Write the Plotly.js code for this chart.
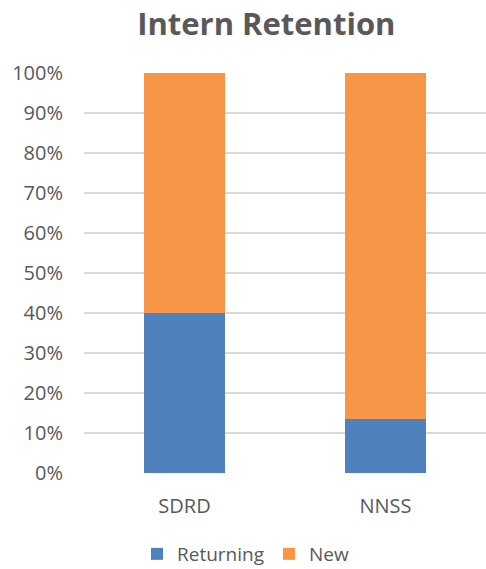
<!DOCTYPE html>
<html><head><meta charset="utf-8">
<script src="https://cdn.plot.ly/plotly-3.0.1.min.js"></script>
<style>html,body{margin:0;padding:0;background:#fff}</style>
</head><body>
<div id="chart" style="width:486px;height:569px"></div>
<script>
const categories = ["SDRD", "NNSS"];
const returning = [0.40, 0.136];
const newInterns = [0.60, 0.864];
const yTickVals = [0,0.1,0.2,0.3,0.4,0.5,0.6,0.7,0.8,0.9,1.0];

const font = "Open Sans, Noto Sans, sans-serif";
const gray = "#595959";

const data = [
  {type:"bar", name:"Returning", x:categories, y:returning, marker:{color:"#4f81bd"}, hoverinfo:"x+y+name"},
  {type:"bar", name:"New", x:categories, y:newInterns, marker:{color:"#f79646"}, hoverinfo:"x+y+name"}
];

const layout = {
  width:486, height:569,
  barmode:"stack",
  bargap:0.6,
  margin:{l:84, r:0, t:73, b:96, autoexpand:false},
  paper_bgcolor:"#fff", plot_bgcolor:"#fff",
  title:{text:"<b>Intern Retention</b>", font:{family:font, size:31, color:gray}, x:0.548, xref:"container", xanchor:"center", y:1-24/569, yref:"container", yanchor:"middle"},
  xaxis:{showgrid:false, showline:false, zeroline:false, ticks:"", tickfont:{family:font, size:20, color:gray}, ticklabelstandoff:19, fixedrange:true},
  yaxis:{range:[0,1], tickvals:yTickVals, tickformat:".0%", showgrid:true, gridcolor:"#d9d9d9", gridwidth:1.5, zeroline:false, showline:false, ticks:"", tickfont:{family:font, size:20, color:gray}, ticklabelstandoff:20, fixedrange:true},
  showlegend:true,
  legend:{orientation:"h", x:137/486, xref:"container", xanchor:"left", y:1-554/569, yref:"container", yanchor:"middle", font:{family:font, size:19, color:gray}, itemwidth:30, traceorder:"normal", bgcolor:"rgba(0,0,0,0)"}
};

Plotly.newPlot("chart", data, layout, {displayModeBar:false, staticPlot:true});
</script>
</body></html>
